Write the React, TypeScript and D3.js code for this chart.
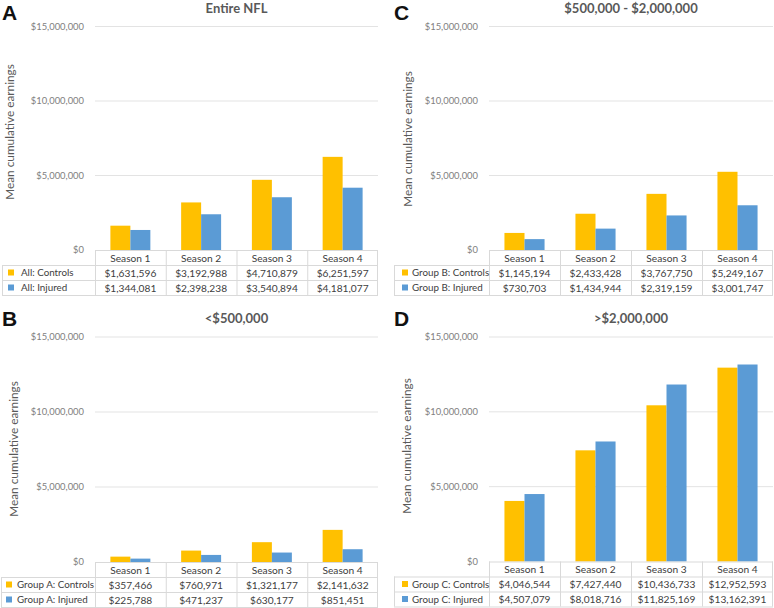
import React from "react";
import * as d3 from "d3";

const seasons = ["Season 1", "Season 2", "Season 3", "Season 4"];
const yTicks = [0, 5000000, 10000000, 15000000];
const seriesKeys = ["Controls", "Injured"];

const allControls = [1631596, 3192988, 4710879, 6251597];
const allInjured = [1344081, 2398238, 3540894, 4181077];
const groupAControls = [357466, 760971, 1321177, 2141632];
const groupAInjured = [225788, 471237, 630177, 851451];
const groupBControls = [1145194, 2433428, 3767750, 5249167];
const groupBInjured = [730703, 1434944, 2319159, 3001747];
const groupCControls = [4046544, 7427440, 10436733, 12952593];
const groupCInjured = [4507079, 8018716, 11825169, 13162391];

const COLORS = ["#FFC000", "#5B9BD5"];
const FONT = "Lato, 'Open Sans', sans-serif";
const fmt = d3.format("$,");

type PanelProps = {
  letter: string;
  title: string;
  prefix: string;
  controls: number[];
  injured: number[];
  left: number;
  right: number;
  top: number;
  bottom: number;
  tableLeft: number;
  squareX: number;
  textX: number;
  letterX: number;
  letterY: number;
  titleY: number;
  yTitleX: number;
  yTitleY: number;
};

function Panel(p: PanelProps) {
  const y = d3.scaleLinear().domain([0, 15000000]).range([p.bottom, p.top]);
  const x = d3.scaleBand().domain(seasons).range([p.left, p.right]).padding(0);
  const inner = d3
    .scaleBand()
    .domain(seriesKeys)
    .range([0, x.bandwidth()])
    .paddingInner(0)
    .paddingOuter(0.77);
  const series = [p.controls, p.injured];
  const rowH = 15;
  const grid = "#d9d9d9";
  const tb = p.bottom;
  const cell = 10.2;
  return (
    <g>
      <text x={p.letterX} y={p.letterY} fontFamily="'Liberation Sans', Arial, sans-serif" fontWeight="bold" fontSize={21} fill="#111">
        {p.letter}
      </text>
      <text x={(p.left + p.right) / 2} y={p.titleY} textAnchor="middle" fontFamily={FONT} fontWeight="bold" fontSize={13} fill="#595959">
        {p.title}
      </text>
      <text
        transform={`translate(${p.yTitleX},${p.yTitleY}) rotate(-90)`}
        textAnchor="middle"
        dominantBaseline="middle"
        fontFamily={FONT}
        fontSize={11.8}
        fill="#595959"
      >
        Mean cumulative earnings
      </text>
      {yTicks.map((t) => (
        <g key={t}>
          {t > 0 && <line x1={p.left} x2={p.right} y1={y(t)} y2={y(t)} stroke="#e3e3e3" strokeWidth={1} />}
          <text x={p.left - 11} y={y(t)} dy="0.35em" textAnchor="end" fontFamily={FONT} fontSize={9.4} fill="#808080">
            {fmt(t)}
          </text>
        </g>
      ))}
      {seasons.map((s, i) =>
        seriesKeys.map((k, j) => (
          <rect
            key={s + k}
            x={(x(s) as number) + (inner(k) as number)}
            y={y(series[j][i])}
            width={inner.bandwidth()}
            height={y(0) - y(series[j][i])}
            fill={COLORS[j]}
          />
        ))
      )}
      {/* table */}
      <line x1={p.left} x2={p.right} y1={tb + 0.5} y2={tb + 0.5} stroke={grid} />
      <line x1={p.tableLeft} x2={p.right} y1={tb + rowH + 0.5} y2={tb + rowH + 0.5} stroke={grid} />
      <line x1={p.tableLeft} x2={p.right} y1={tb + 2 * rowH + 0.5} y2={tb + 2 * rowH + 0.5} stroke={grid} />
      <line x1={p.tableLeft} x2={p.right} y1={tb + 3 * rowH + 0.5} y2={tb + 3 * rowH + 0.5} stroke={grid} />
      <line x1={p.tableLeft + 0.5} x2={p.tableLeft + 0.5} y1={tb + rowH} y2={tb + 3 * rowH} stroke={grid} />
      {seasons.map((s) => (
        <line key={"v" + s} x1={(x(s) as number) + 0.5} x2={(x(s) as number) + 0.5} y1={tb} y2={tb + 3 * rowH} stroke={grid} />
      ))}
      <line x1={p.right - 0.5} x2={p.right - 0.5} y1={tb} y2={tb + 3 * rowH} stroke={grid} />
      {seasons.map((s) => (
        <text key={"h" + s} x={(x(s) as number) + x.bandwidth() / 2} y={tb + rowH / 2 + 0.5} dy="0.35em" textAnchor="middle" fontFamily={FONT} fontSize={cell} fill="#404040">
          {s}
        </text>
      ))}
      {seriesKeys.map((k, j) => (
        <g key={"row" + k}>
          <rect x={p.squareX} y={tb + rowH * (j + 1) + 4.5} width={6} height={6} fill={COLORS[j]} />
          <text x={p.textX} y={tb + rowH * (j + 1.5) + 0.5} dy="0.35em" fontFamily={FONT} fontSize={9.8} fill="#404040">
            {p.prefix + ": " + k}
          </text>
          {seasons.map((s, i) => (
            <text key={s} x={(x(s) as number) + x.bandwidth() / 2} y={tb + rowH * (j + 1.5) + 0.5} dy="0.35em" textAnchor="middle" fontFamily={FONT} fontSize={cell} fill="#404040">
              {fmt(series[j][i])}
            </text>
          ))}
        </g>
      ))}
    </g>
  );
}

export default function App() {
  return (
    <svg width={774} height={608} style={{ position: "absolute", left: 0, top: 0, background: "#fff" }}>
      <rect width={774} height={608} fill="#fff" />
      <Panel letter="A" title="Entire NFL" prefix="All" controls={allControls} injured={allInjured}
        left={95} right={378} top={26.5} bottom={250} tableLeft={2} squareX={8} textX={21}
        letterX={2} letterY={20} titleY={13} yTitleX={11} yTitleY={132} />
      <Panel letter="C" title="$500,000 - $2,000,000" prefix="Group B" controls={groupBControls} injured={groupBInjured}
        left={489} right={773} top={26.5} bottom={250} tableLeft={394} squareX={402} textX={412}
        letterX={394} letterY={20} titleY={13} yTitleX={409} yTitleY={139} />
      <Panel letter="B" title="<$500,000" prefix="Group A" controls={groupAControls} injured={groupAInjured}
        left={95} right={378} top={337} bottom={562} tableLeft={1} squareX={6} textX={17}
        letterX={2} letterY={326} titleY={323} yTitleX={15} yTitleY={449} />
      <Panel letter="D" title=">$2,000,000" prefix="Group C" controls={groupCControls} injured={groupCInjured}
        left={489} right={773} top={337} bottom={561.5} tableLeft={394} squareX={402} textX={412}
        letterX={394} letterY={326} titleY={323} yTitleX={408} yTitleY={446} />
    </svg>
  );
}
